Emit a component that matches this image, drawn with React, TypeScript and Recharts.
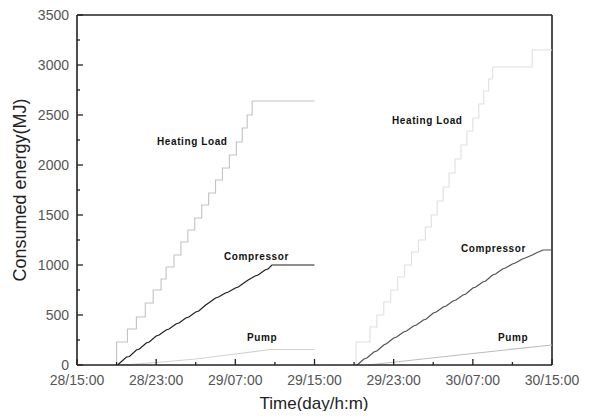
import React from "react";
import { LineChart, Line, XAxis, YAxis, ReferenceLine } from "recharts";

// hours since 28/15:00
const xTicks = [0, 4, 8, 12, 16, 20, 24, 28, 32, 36, 40, 44, 48];
const xTickLabels: Record<number, string> = {
  0: "28/15:00",
  8: "28/23:00",
  16: "29/07:00",
  24: "29/15:00",
  32: "29/23:00",
  40: "30/07:00",
  48: "30/15:00",
};
const yTicks = [0, 250, 500, 750, 1000, 1250, 1500, 1750, 2000, 2250, 2500, 2750, 3000, 3250, 3500];

const heatingLeft = [
  { t: 4, v: 0 }, { t: 4, v: 230 }, { t: 5.1, v: 360 }, { t: 6.0, v: 480 }, { t: 6.9, v: 620 },
  { t: 7.7, v: 750 }, { t: 8.5, v: 860 }, { t: 9.0, v: 980 }, { t: 9.8, v: 1100 },
  { t: 10.5, v: 1230 }, { t: 11.2, v: 1350 }, { t: 11.9, v: 1470 }, { t: 12.6, v: 1600 },
  { t: 13.3, v: 1720 }, { t: 14.0, v: 1850 }, { t: 14.7, v: 1970 }, { t: 15.4, v: 2100 },
  { t: 16.1, v: 2230 }, { t: 16.7, v: 2370 }, { t: 17.2, v: 2500 }, { t: 17.7, v: 2640 },
  { t: 24, v: 2640 },
];
const heatingRight = [
  { t: 28.2, v: 0 }, { t: 28.2, v: 230 }, { t: 29.6, v: 380 }, { t: 30.3, v: 500 },
  { t: 31.0, v: 630 }, { t: 31.7, v: 750 }, { t: 32.4, v: 880 }, { t: 33.1, v: 1000 },
  { t: 33.8, v: 1130 }, { t: 34.5, v: 1250 }, { t: 35.2, v: 1380 }, { t: 35.8, v: 1500 },
  { t: 36.4, v: 1640 }, { t: 37.0, v: 1780 }, { t: 37.6, v: 1920 }, { t: 38.2, v: 2060 },
  { t: 38.8, v: 2200 }, { t: 39.4, v: 2340 }, { t: 40.0, v: 2470 }, { t: 40.6, v: 2610 },
  { t: 41.1, v: 2740 }, { t: 41.6, v: 2860 }, { t: 42.0, v: 2980 }, { t: 46.0, v: 3150 },
  { t: 48, v: 3150 },
];
const compressorLeft = [
  { t: 4.1, v: 0 }, { t: 5.0, v: 80 }, { t: 5.3, v: 85 }, { t: 6.0, v: 150 }, { t: 6.3, v: 160 },
  { t: 7.0, v: 220 }, { t: 7.3, v: 230 }, { t: 8.0, v: 290 }, { t: 8.3, v: 300 },
  { t: 9.0, v: 350 }, { t: 9.3, v: 360 }, { t: 10.0, v: 410 }, { t: 10.3, v: 420 },
  { t: 11.0, v: 470 }, { t: 11.3, v: 480 }, { t: 12.0, v: 530 }, { t: 12.3, v: 540 },
  { t: 13.0, v: 600 }, { t: 13.3, v: 620 }, { t: 14.0, v: 670 }, { t: 14.3, v: 680 },
  { t: 15.0, v: 720 }, { t: 15.3, v: 730 }, { t: 16.0, v: 770 }, { t: 16.3, v: 780 },
  { t: 17.0, v: 830 }, { t: 17.3, v: 850 }, { t: 18.0, v: 890 }, { t: 18.3, v: 900 },
  { t: 19.0, v: 950 }, { t: 19.3, v: 960 }, { t: 19.7, v: 1000 }, { t: 24, v: 1000 },
];
const compressorRight = [
  { t: 28.3, v: 0 }, { t: 29.0, v: 60 }, { t: 29.3, v: 70 }, { t: 30.0, v: 130 },
  { t: 30.3, v: 140 }, { t: 31.0, v: 200 }, { t: 31.3, v: 215 }, { t: 32.0, v: 270 },
  { t: 32.3, v: 280 }, { t: 33.0, v: 330 }, { t: 33.3, v: 340 }, { t: 34.0, v: 390 },
  { t: 34.3, v: 400 }, { t: 35.0, v: 450 }, { t: 35.3, v: 460 }, { t: 36.0, v: 520 },
  { t: 36.3, v: 530 }, { t: 37.0, v: 580 }, { t: 37.3, v: 590 }, { t: 38.0, v: 640 },
  { t: 38.3, v: 650 }, { t: 39.0, v: 700 }, { t: 39.3, v: 710 }, { t: 40.0, v: 770 },
  { t: 40.3, v: 780 }, { t: 41.0, v: 830 }, { t: 41.3, v: 840 }, { t: 42.0, v: 900 },
  { t: 42.3, v: 910 }, { t: 43.0, v: 960 }, { t: 43.3, v: 970 }, { t: 44.0, v: 1010 },
  { t: 44.3, v: 1020 }, { t: 45.0, v: 1060 }, { t: 45.3, v: 1070 }, { t: 46.0, v: 1100 },
  { t: 46.4, v: 1120 }, { t: 47.1, v: 1150 }, { t: 48, v: 1150 },
];
const pumpLeft = [
  { t: 4.5, v: 0 }, { t: 8, v: 25 }, { t: 12, v: 60 }, { t: 16, v: 110 }, { t: 19.5, v: 155 },
  { t: 24, v: 155 },
];
const pumpRight = [
  { t: 29.4, v: 0 }, { t: 34, v: 50 }, { t: 40, v: 115 }, { t: 48, v: 200 },
];

const FONT = "'Liberation Sans', Arial, sans-serif";

const XTick = (props: any) => {
  const { x, y, payload } = props;
  const v = payload.value as number;
  const label = xTickLabels[v];
  const major = label !== undefined;
  return (
    <g>
      <line x1={x} y1={y} x2={x} y2={y - (major ? 6 : 3)} stroke="#222" strokeWidth={1.3} />
      {major && (
        <text x={x} y={y + 15} textAnchor="middle" dominantBaseline="central" fill="#555" fontSize={14} fontFamily={FONT}>
          {label}
        </text>
      )}
    </g>
  );
};

const YTick = (props: any) => {
  const { x, y, payload } = props;
  const v = payload.value as number;
  const major = v % 500 === 0;
  return (
    <g>
      <line x1={x} y1={y} x2={x + (major ? 6 : 3)} y2={y} stroke="#222" strokeWidth={1.3} />
      {major && (
        <text x={x - 8} y={y} textAnchor="end" dominantBaseline="central" fill="#555" fontSize={14} fontFamily={FONT}>
          {v}
        </text>
      )}
    </g>
  );
};

const seriesLabel: React.CSSProperties = {
  position: "absolute",
  fontFamily: FONT,
  fontWeight: "bold",
  fontSize: 10,
  letterSpacing: 0.6,
  color: "#111",
  whiteSpace: "nowrap",
  lineHeight: "12px",
};

export default function App() {
  return (
    <div style={{ position: "relative", width: 573, height: 403, background: "#fff" }}>
      <LineChart width={573} height={403} margin={{ top: 7, right: 29, bottom: 0, left: 0 }}>
        <XAxis
          dataKey="t"
          type="number"
          domain={[0, 48]}
          ticks={xTicks}
          allowDuplicatedCategory={false}
          height={46}
          tickSize={0}
          tickMargin={0}
          tick={<XTick />}
          axisLine={{ stroke: "#222", strokeWidth: 1.6 }}
          interval={0}
        />
        <YAxis
          type="number"
          domain={[0, 3500]}
          ticks={yTicks}
          width={69}
          tickSize={0}
          tickMargin={0}
          tick={<YTick />}
          axisLine={{ stroke: "#222", strokeWidth: 1.6 }}
          interval={0}
        />
        <ReferenceLine y={3500} stroke="#222" strokeWidth={1.6} ifOverflow="visible" />
        <ReferenceLine x={48} stroke="#222" strokeWidth={1.6} ifOverflow="visible" />
        <Line data={heatingLeft} dataKey="v" type="stepAfter" stroke="#c2c2c2" strokeWidth={1.1} dot={false} isAnimationActive={false} />
        <Line data={heatingRight} dataKey="v" type="stepAfter" stroke="#e0e0e0" strokeWidth={1.1} dot={false} isAnimationActive={false} />
        <Line data={compressorLeft} dataKey="v" type="linear" stroke="#1e1e1e" strokeWidth={1.2} dot={false} isAnimationActive={false} />
        <Line data={compressorRight} dataKey="v" type="linear" stroke="#505050" strokeWidth={1.2} dot={false} isAnimationActive={false} />
        <Line data={pumpLeft} dataKey="v" type="linear" stroke="#d2d2d2" strokeWidth={1.2} dot={false} isAnimationActive={false} />
        <Line data={pumpRight} dataKey="v" type="linear" stroke="#bdbdbd" strokeWidth={1.2} dot={false} isAnimationActive={false} />
      </LineChart>

      <div style={{ ...seriesLabel, left: 149, top: 128 }}>Heating Load</div>
      <div style={{ ...seriesLabel, left: 384, top: 107 }}>Heating Load</div>
      <div style={{ ...seriesLabel, left: 216, top: 243 }}>Compressor</div>
      <div style={{ ...seriesLabel, left: 453, top: 235 }}>Compressor</div>
      <div style={{ ...seriesLabel, left: 239, top: 324 }}>Pump</div>
      <div style={{ ...seriesLabel, left: 490, top: 324 }}>Pump</div>

      <div
        style={{
          position: "absolute",
          left: 250,
          width: 112,
          top: 386,
          textAlign: "center",
          fontFamily: FONT,
          fontSize: 17,
          color: "#222",
          whiteSpace: "nowrap",
          lineHeight: "20px",
        }}
      >
        Time(day/h:m)
      </div>
      <div
        style={{
          position: "absolute",
          left: 12 - 100,
          top: 182 - 10,
          width: 200,
          textAlign: "center",
          transform: "rotate(-90deg)",
          fontFamily: FONT,
          fontSize: 18,
          color: "#222",
          whiteSpace: "nowrap",
          lineHeight: "20px",
        }}
      >
        Consumed energy(MJ)
      </div>
    </div>
  );
}
